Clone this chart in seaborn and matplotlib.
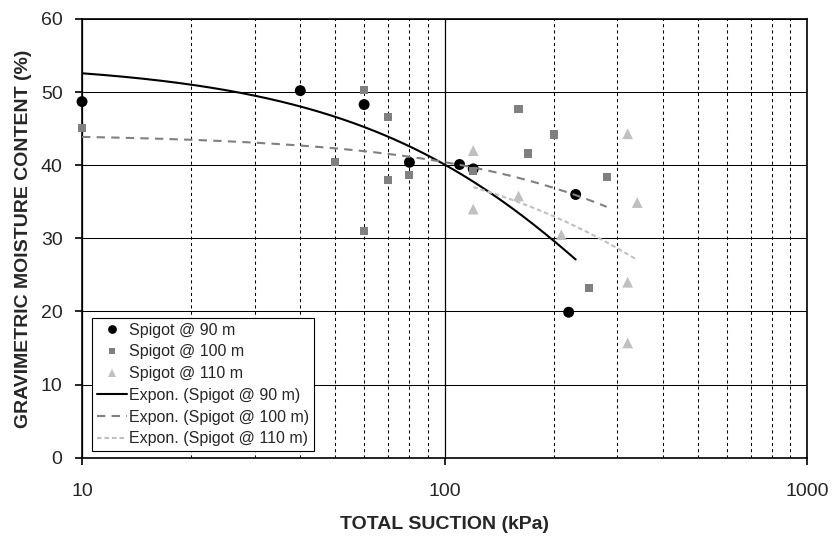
from matplotlib import pyplot as plt
from matplotlib.lines import Line2D
from matplotlib.ticker import LogLocator, NullFormatter
import seaborn as sns
import pandas as pd
import numpy as np

# total suction (kPa) and gravimetric moisture content (%) per spigot distance
suction_90 = [10, 40, 60, 80, 110, 120, 230, 220]
moisture_90 = [48.7, 50.2, 48.3, 40.4, 40.1, 39.5, 36.0, 19.9]

suction_100 = [10, 50, 60, 60, 70, 70, 80, 120, 160, 170, 200, 250, 280]
moisture_100 = [45.1, 40.4, 50.3, 31.0, 46.6, 38.0, 38.7, 39.2, 47.7, 41.6, 44.2, 23.2, 38.4]

suction_110 = [120, 120, 160, 210, 320, 340, 320, 320]
moisture_110 = [42.0, 34.0, 35.8, 30.5, 44.3, 34.9, 24.0, 15.7]

labels = ["Spigot @ 90 m", "Spigot @ 100 m", "Spigot @ 110 m"]

df = pd.concat(
    [
        pd.DataFrame({"suction": s, "moisture": m, "series": lab})
        for s, m, lab in zip(
            [suction_90, suction_100, suction_110],
            [moisture_90, moisture_100, moisture_110],
            labels,
        )
    ],
    ignore_index=True,
)

sns.set_style("ticks")
plt.rcParams["font.family"] = ["Liberation Sans", "DejaVu Sans"]

styles = {
    "Spigot @ 90 m": dict(marker="o", color="black", s=62, dash=None),
    "Spigot @ 100 m": dict(marker="s", color="#808080", s=34, dash=(4, 3)),
    "Spigot @ 110 m": dict(marker="^", color="#c0c0c0", s=60, dash=(2.2, 1.4)),
}

fig = plt.figure(figsize=(8.32, 5.36), dpi=100)
ax = fig.add_axes([0.0986, 0.146, 0.8714, 0.8186])

# Excel-style exponential trendlines: y = a * exp(b * x), fitted on ln(y)
trend_rows = []
for lab in labels:
    sub = df[df.series == lab]
    b, ln_a = np.polyfit(sub.suction, np.log(sub.moisture), 1)
    xs = np.geomspace(sub.suction.min(), sub.suction.max(), 200)
    trend_rows.append(
        pd.DataFrame({"suction": xs, "moisture": np.exp(ln_a + b * xs),
                      "series": f"Expon. ({lab})"})
    )
trend = pd.concat(trend_rows, ignore_index=True)

handles = []
for lab in labels:
    st = styles[lab]
    sns.scatterplot(
        data=df[df.series == lab], x="suction", y="moisture", ax=ax,
        marker=st["marker"], color=st["color"], s=st["s"],
        edgecolor="none", linewidth=0, zorder=3, legend=False, clip_on=False,
    )
    handles.append(Line2D([], [], ls="none", marker=st["marker"], color=st["color"],
                          markersize=np.sqrt(st["s"]) * 0.8, markeredgewidth=0,
                          label=lab))

for lab in labels:
    st = styles[lab]
    name = f"Expon. ({lab})"
    sns.lineplot(
        data=trend[trend.series == name], x="suction", y="moisture", ax=ax,
        color=st["color"], lw=1.5, zorder=4, legend=False,
    )
    line = ax.lines[-1]
    if st["dash"] is not None:
        line.set_dashes(st["dash"])
    h = Line2D([], [], color=st["color"], lw=1.5, label=name)
    if st["dash"] is not None:
        h.set_dashes(st["dash"])
    handles.append(h)

ax.set_xscale("log")
ax.set_xlim(10, 1000)
ax.set_ylim(0, 60)
ax.set_xticks([10, 100, 1000])
ax.set_xticklabels(["10", "100", "1000"])
ax.xaxis.set_minor_locator(LogLocator(base=10, subs=np.arange(2, 10)))
ax.xaxis.set_minor_formatter(NullFormatter())
ax.set_yticks(np.arange(0, 61, 10))

ax.grid(axis="y", which="major", color="black", lw=0.75)
ax.grid(axis="x", which="major", color="black", lw=0.9)
ax.grid(axis="x", which="minor", color="black", lw=0.75, ls=(0, (3, 3)))
ax.set_axisbelow(True)

ax.tick_params(axis="both", which="major", labelsize=14, direction="out",
               length=5, width=1.2, color="black")
ax.tick_params(axis="x", which="major", pad=13)
ax.tick_params(axis="y", which="major", pad=9)
ax.tick_params(axis="x", which="minor", length=0)

for sp in ax.spines.values():
    sp.set_color("black")
    sp.set_linewidth(1.2)

ax.set_xlabel("TOTAL SUCTION (kPa)", fontsize=14, fontweight="bold", labelpad=12)
ax.set_ylabel("GRAVIMETRIC MOISTURE CONTENT (%)", fontsize=14, fontweight="bold",
              labelpad=6)

leg = ax.legend(
    handles=handles, loc="lower left", bbox_to_anchor=(0.0134, 0.0153),
    borderaxespad=0, fontsize=11.5, frameon=True, fancybox=False,
    handlelength=1.9, handletextpad=0.15, labelspacing=0.42, borderpad=0.3,
)
leg.get_frame().set_edgecolor("black")
leg.get_frame().set_linewidth(0.8)
leg.get_frame().set_alpha(1)
leg.set_zorder(5)

fig.savefig("out.png", dpi=100)
